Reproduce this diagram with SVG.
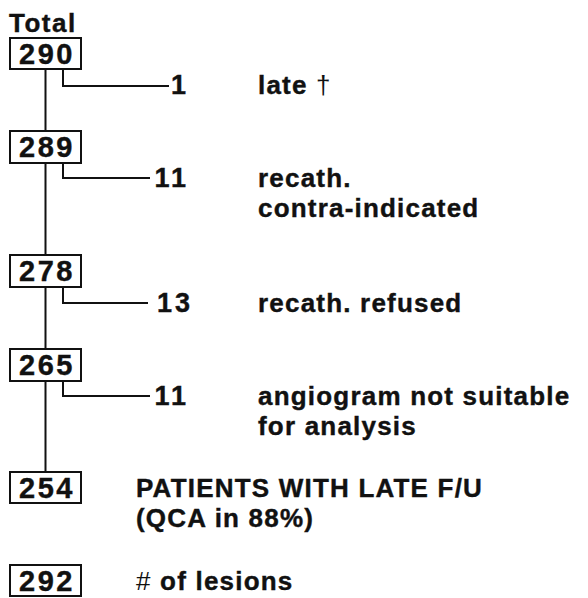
<svg xmlns="http://www.w3.org/2000/svg" width="588" height="598" viewBox="0 0 588 598">
  <style>
    text { font-family: "Liberation Sans", Arial, Helvetica, sans-serif; font-weight: bold; fill: #111; stroke: #111; stroke-width: 0.4px; }
    .num { font-size: 29px; letter-spacing: 2.5px; text-anchor: middle; }
    .cnt { font-size: 27px; letter-spacing: 3px; text-anchor: end; }
    .lbl { font-size: 26px; letter-spacing: 1.2px; }
    .thin { font-weight: normal; stroke-width: 0; }
    .box { fill: #fff; stroke: #111; stroke-width: 2; }
    .line { fill: none; stroke: #111; stroke-width: 2; }
  </style>

  <text x="9" y="32" style="font-size:26px;letter-spacing:1.5px">Total</text>

  <!-- connectors: main trunk segments and side branches -->
  <g id="connectors">
    <path class="line" d="M45.5,70 V130 M45.5,164 V254 M45.5,288 V348 M45.5,382 V471"/>
    <path class="line" d="M63,70 V86 H169"/>
    <path class="line" d="M63,164 V178 H150"/>
    <path class="line" d="M63,288 V303 H148"/>
    <path class="line" d="M63,382 V396 H150"/>
  </g>

  <g id="n290">
    <rect class="box" x="10" y="38" width="71" height="31"/>
    <text class="num" x="47" y="63.5">290</text>
  </g>
  <g id="x1">
    <text class="cnt" x="189" y="94">1</text>
    <text class="lbl" x="258" y="94">late <tspan class="thin">†</tspan></text>
  </g>

  <g id="n289">
    <rect class="box" x="10" y="131" width="71" height="32"/>
    <text class="num" x="47" y="157">289</text>
  </g>
  <g id="x11a">
    <text class="cnt" x="189" y="187">11</text>
    <text class="lbl" x="258" y="187">recath.</text>
    <text class="lbl" x="258" y="217">contra-indicated</text>
  </g>

  <g id="n278">
    <rect class="box" x="10" y="255" width="71" height="32"/>
    <text class="num" x="47" y="281">278</text>
  </g>
  <g id="x13">
    <text class="cnt" x="193" y="312">13</text>
    <text class="lbl" x="258" y="312">recath. refused</text>
  </g>

  <g id="n265">
    <rect class="box" x="10" y="349" width="71" height="32"/>
    <text class="num" x="47" y="375">265</text>
  </g>
  <g id="x11b">
    <text class="cnt" x="189" y="405">11</text>
    <text class="lbl" x="258" y="405">angiogram not suitable</text>
    <text class="lbl" x="258" y="435">for analysis</text>
  </g>

  <g id="n254">
    <rect class="box" x="10" y="472" width="71" height="31"/>
    <text class="num" x="47" y="498">254</text>
    <text class="lbl" x="136" y="497">PATIENTS WITH LATE F/U</text>
    <text class="lbl" x="136" y="527">(QCA in 88%)</text>
  </g>

  <g id="n292">
    <rect class="box" x="10" y="565" width="71" height="31"/>
    <text class="num" x="47" y="591">292</text>
    <text class="lbl" x="136" y="590"><tspan class="thin">#</tspan>  of lesions</text>
  </g>
</svg>
